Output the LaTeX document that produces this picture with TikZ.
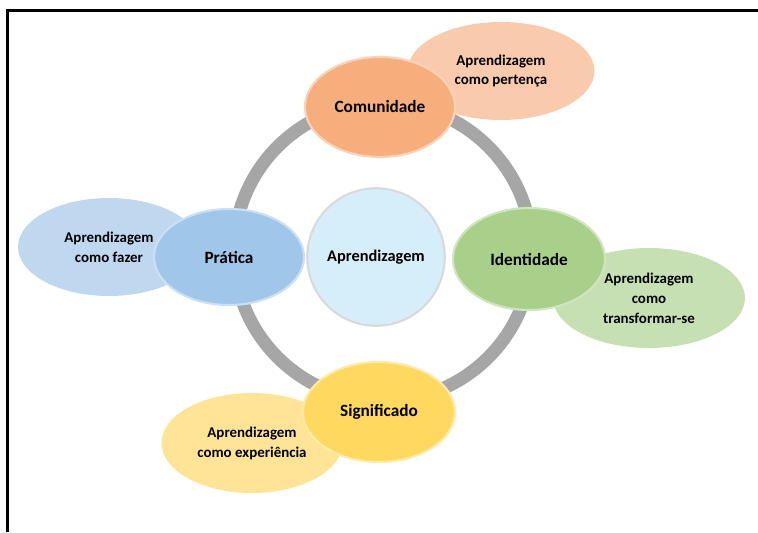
\documentclass[tikz,border=0pt]{standalone}
\usepackage{fontspec}
\setmainfont{Carlito}
\usetikzlibrary{shapes.geometric}

\definecolor{comOrange}{RGB}{246,174,124}
\definecolor{comPale}{RGB}{249,203,172}
\definecolor{praBlue}{RGB}{160,198,233}
\definecolor{praPale}{RGB}{192,216,239}
\definecolor{ideGreen}{RGB}{168,208,139}
\definecolor{idePale}{RGB}{198,224,180}
\definecolor{sigYellow}{RGB}{255,216,96}
\definecolor{sigPale}{RGB}{255,228,152}
\definecolor{aprBlue}{RGB}{214,238,250}
\definecolor{ringGray}{RGB}{166,166,166}

\begin{document}
\begin{tikzpicture}[
  font=\bfseries\fontsize{9.8}{12}\selectfont,
  every node/.style={text=black, align=center, inner sep=0pt},
  main/.style={ellipse, minimum width=3cm, minimum height=2cm,
    fill=#1, draw=#1!55!white, line width=1.2pt},
  side/.style={ellipse, minimum width=3.7cm, minimum height=2cm,
    fill=#1, font=\bfseries\fontsize{8.5}{11.3}\selectfont}
]
\useasboundingbox (0,0) rectangle (15.16,-10.64);

% frame, top and left only
\draw[line width=1.7pt] (0.15,-10.64) -- (0.15,-0.21) -- (15.16,-0.21);

% ring behind the four themes
\draw[ringGray, line width=2.6mm] (7.66,-5.04) circle (2.98);

% outer ellipses
\node(pertenca)[side=comPale, minimum width=3.74cm, minimum height=1.96cm] at (10.02,-1.42)
    {Aprendizagem\\como pertença};
\node(fazer)[side=praPale, minimum width=3.64cm, minimum height=1.96cm] at (2.18,-4.94)
    {Aprendizagem\\como fazer};
\node(transf)[side=idePale, minimum width=3.84cm] at (12.98,-5.96)
    {Aprendizagem\\como\\transformar-se};
\node(experiencia)[side=sigPale, minimum width=3.62cm] at (5.04,-8.86)
    {Aprendizagem\\como experiência};

% themes
\node(comunidade)[main=comOrange] at (7.60,-2.14) {Comunidade};
\node(pratica)[main=praBlue, minimum height=1.92cm] at (4.58,-5.14) {Prática};
\node(identidade)[main=ideGreen, minimum width=3.04cm, minimum height=2.04cm] at (10.58,-5.18) {Identidade};
\node(significado)[main=sigYellow, minimum width=3.04cm] at (7.58,-8.24) {Significado};

% centre
\node(aprend)[circle, minimum size=2.75cm, fill=aprBlue, draw=white!85!black,
    line width=1.2pt, font=\bfseries\fontsize{9.3}{12}\selectfont] at (7.52,-5.14) {Aprendizagem};

\end{tikzpicture}
\end{document}
